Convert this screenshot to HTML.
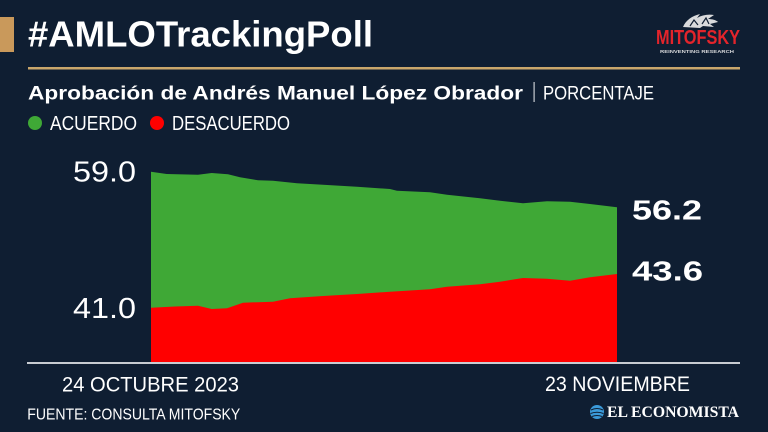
<!DOCTYPE html>
<html>
<head>
<meta charset="utf-8">
<style>
html,body{margin:0;padding:0;background:#0f1e32;}
svg{display:block;}
text{font-family:"Liberation Sans",sans-serif;}
</style>
</head>
<body>
<svg width="768" height="432" viewBox="0 0 768 432" xmlns="http://www.w3.org/2000/svg">
  <rect x="0" y="0" width="768" height="432" fill="#0f1e32"/>
  <!-- gold bar -->
  <rect x="0" y="17" width="14" height="35" fill="#c9995b"/>
  <!-- title -->
  <text x="28" y="46.7" font-size="36" font-weight="bold" fill="#ffffff" textLength="345" lengthAdjust="spacingAndGlyphs">#AMLOTrackingPoll</text>
  <!-- gold line -->
  <rect x="28" y="67" width="712" height="2.5" fill="#c9a66b"/>

  <!-- Mitofsky logo -->
  <g>
    <path d="M683 27 C686 20 692 16 700 14 L697 18 C702 15 708 14 714 15 L708 19 C712 19 716 20 718 22 L710 24 L714 27 L703 26 L700 28 Z" fill="#d9dadc"/>
    <path d="M690 26 L694 20 L698 25 M702 24 L706 18 L709 24" stroke="#0f1e32" stroke-width="1.2" fill="none"/>
    <text x="656" y="44" font-size="20" font-weight="bold" fill="#e3242b" textLength="84" lengthAdjust="spacingAndGlyphs">MITOFSKY</text>
    <text x="660" y="53" font-size="4.5" font-weight="bold" fill="#d9dadc" textLength="74" lengthAdjust="spacingAndGlyphs">REINVENTING RESEARCH</text>
  </g>

  <!-- subtitle -->
  <text x="28" y="99.3" font-size="19.5" font-weight="bold" fill="#ffffff" textLength="495" lengthAdjust="spacingAndGlyphs">Aprobación de Andrés Manuel López Obrador</text>
  <rect x="533.5" y="82" width="1.2" height="20" fill="#c8ccd2"/>
  <text x="543" y="99.3" font-size="19.5" fill="#ffffff" textLength="111" lengthAdjust="spacingAndGlyphs">PORCENTAJE</text>

  <!-- legend -->
  <circle cx="35" cy="123" r="7" fill="#3fa836"/>
  <text x="50" y="130" font-size="20" fill="#ffffff" textLength="87" lengthAdjust="spacingAndGlyphs">ACUERDO</text>
  <circle cx="157" cy="123" r="7" fill="#ff0000"/>
  <text x="172" y="130" font-size="20" fill="#ffffff" textLength="118" lengthAdjust="spacingAndGlyphs">DESACUERDO</text>

  <!-- y labels -->
  <text x="136" y="181.7" font-size="29" fill="#ffffff" text-anchor="end" textLength="63" lengthAdjust="spacingAndGlyphs">59.0</text>
  <text x="136" y="318" font-size="29" fill="#ffffff" text-anchor="end" textLength="63" lengthAdjust="spacingAndGlyphs">41.0</text>

  <!-- green area -->
  <polygon fill="#3fa836" points="151,171.7 166.7,174 198,174.7 211.7,173 228,174.3 240,177.3 258,180.3 273,180.7 297,183.3 323,184.7 357,186.7 390,189 397,190.7 430,192.3 447,194.7 480,198.3 500,200.7 523,203.3 547,201.3 570,201.7 590,204 617,207.3 617,362 151,362"/>
  <!-- red area -->
  <polygon fill="#ff0000" points="151,307.7 175,306.5 198,305.7 211.7,309 227,308.3 243,302.7 273,301.7 290,298.3 323,296 357,294 390,291.7 430,289.3 447,286.7 480,284.3 500,281.7 523,278 547,278.7 570,280.7 590,277.3 617,274 617,362 151,362"/>

  <!-- axis line -->
  <rect x="27" y="362" width="713" height="2" fill="#c8ccd2"/>

  <!-- end labels -->
  <text x="632" y="219.3" font-size="28" font-weight="bold" fill="#ffffff" textLength="70" lengthAdjust="spacingAndGlyphs">56.2</text>
  <text x="632" y="280.7" font-size="28" font-weight="bold" fill="#ffffff" textLength="71" lengthAdjust="spacingAndGlyphs">43.6</text>

  <!-- x labels -->
  <text x="62" y="391.5" font-size="21" fill="#ffffff" textLength="177" lengthAdjust="spacingAndGlyphs">24 OCTUBRE 2023</text>
  <text x="545" y="391" font-size="21" fill="#ffffff" textLength="145" lengthAdjust="spacingAndGlyphs">23 NOVIEMBRE</text>

  <!-- footer -->
  <text x="27.3" y="419.3" font-size="16" fill="#ffffff" textLength="213" lengthAdjust="spacingAndGlyphs">FUENTE: CONSULTA MITOFSKY</text>
  <circle cx="597" cy="412" r="7" fill="#3b9ad9"/>
  <path d="M591 410 Q597 407 603 410 M590.5 413.5 Q597 411 603.5 413.5 M592 416.5 Q597 414.5 602 416.5" stroke="#0f1e32" stroke-width="1" fill="none"/>
  <text x="607" y="417" font-family="Liberation Serif, serif" font-size="15.5" font-weight="bold" fill="#ffffff" textLength="132" lengthAdjust="spacingAndGlyphs" style="font-family:'Liberation Serif',serif">EL ECONOMISTA</text>
</svg>
</body>
</html>
